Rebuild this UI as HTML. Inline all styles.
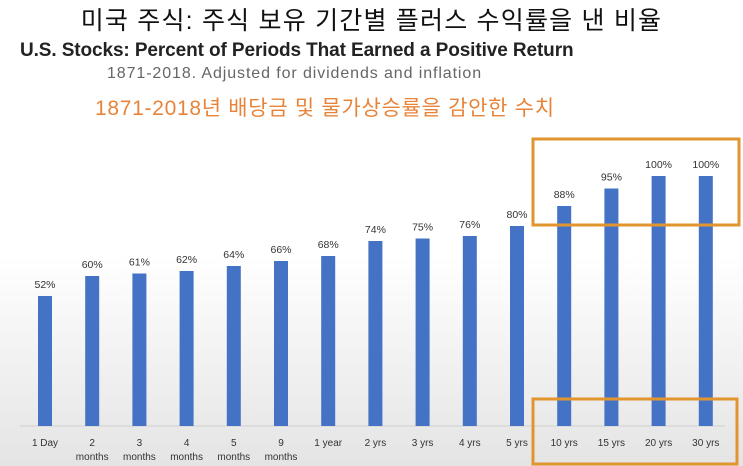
<!DOCTYPE html>
<html><head><meta charset="utf-8"><style>
body{margin:0;width:743px;height:466px;overflow:hidden;background:linear-gradient(#fff 0%,#fff 55%,#e4e4e4 100%);font-family:"Liberation Sans","Noto Sans CJK KR",sans-serif;position:relative}
.t{position:absolute;white-space:nowrap}
</style></head><body>
<div class="t" style="left:0;width:743px;text-align:center;top:1px;font-size:25px;color:#111;letter-spacing:1.2px">미국 주식: 주식 보유 기간별 플러스 수익률을 낸 비율</div>
<div class="t" style="left:20px;top:40px;font-size:19px;font-weight:bold;color:#222;letter-spacing:-0.1px">U.S. Stocks: Percent of Periods That Earned a Positive Return</div>
<div class="t" style="left:107px;top:65px;font-size:16px;color:#666;letter-spacing:0.9px">1871-2018. Adjusted for dividends and inflation</div>
<div class="t" style="left:95px;top:92px;font-size:21px;color:#e8843a;letter-spacing:0.7px">1871-2018년 배당금 및 물가상승률을 감안한 수치</div>
<svg id="c" width="743" height="466" style="position:absolute;left:0;top:0"></svg>
<script>
const categories=["1 Day","2|months","3|months","4|months","5|months","9|months","1 year","2 yrs","3 yrs","4 yrs","5 yrs","10 yrs","15 yrs","20 yrs","30 yrs"];
const values=[52,60,61,62,64,66,68,74,75,76,80,88,95,100,100];
const svg=document.getElementById('c');const NS='http://www.w3.org/2000/svg';
const x=i=>45+i*47.2, y=v=>426-v*2.5;
function mk(t,a){const e=document.createElementNS(NS,t);for(const k in a)e.setAttribute(k,a[k]);svg.appendChild(e);return e;}
const ax=mk('line',{x1:20,x2:725,y1:426,y2:426,stroke:'#d0d0d0','stroke-width':1});


values.forEach((v,i)=>{
 const r=mk('rect',{x:x(i)-7,y:y(v),width:14,height:426-y(v),fill:'#4472c4'});
 
 
 const l=mk('text',{x:x(i),y:y(v)-8,'text-anchor':'middle','font-size':10.5,fill:'#333'});l.textContent=v+'%';
 
 
 categories[i].split('|').forEach((s,j)=>{
  const c=mk('text',{x:x(i),y:446+j*14,'text-anchor':'middle','font-size':10,fill:'#333'});c.textContent=s;
  
  
 });
});
const b1=mk('rect',{x:533,y:139,width:206,height:86,fill:'none',stroke:'#e0952e','stroke-width':3});


const b2=mk('rect',{x:533,y:399,width:204,height:65,fill:'none',stroke:'#e0952e','stroke-width':3});


</script>
</body></html>
